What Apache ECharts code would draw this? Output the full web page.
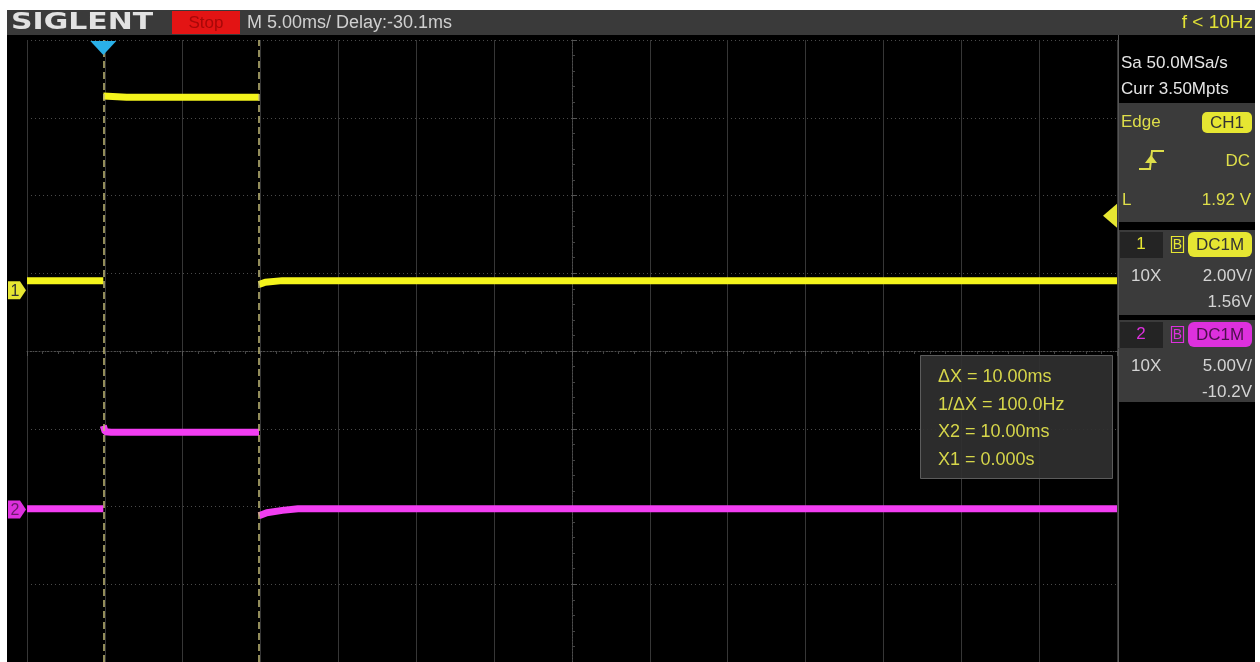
<!DOCTYPE html>
<html><head><meta charset="utf-8">
<script src="https://cdn.jsdelivr.net/npm/echarts@6/dist/echarts.min.js"></script>
<style>html,body{margin:0;padding:0;background:#fff;}#c{width:1260px;height:662px;}</style>
</head><body><div id="c"></div>
<script>
// ---- data (time in ms, volts) ----
const ch1Time = [-4.9, 0, 0, 0, 1.5, 10, 10, 10, 10.4, 11.5, 65.1];
const ch1Volt = [0.25, 0.25, null, 5.0, 4.97, 4.97, null, 0.15, 0.21, 0.25, 0.25];
const ch2Time = [-4.9, 0, 0, 0, 0.12, 0.5, 10, 10, 10, 10.5, 11.5, 12.5, 65.1];
const ch2Volt = [0.05, 0.05, null, 5.4, 5.0, 4.97, 4.97, null, -0.4, -0.2, -0.05, 0.05, 0.05];
const cursorTimes = [0, 10];
const trigTime = 0;
const trigLevel = 1.92;
const timeRange = [-4.9, 65.1];      // 14 div x 5 ms, delay -30.1 ms
const ch1Range = [-9.56, 6.44];      // 2 V/div, offset 1.56 V
const ch2Range = [-9.8, 30.2];       // 5 V/div, offset -10.2 V
const headerText = 'M 5.00ms/ Delay:-30.1ms';
const freqText = 'f < 10Hz';
const sampleTexts = ['Sa 50.0MSa/s', 'Curr 3.50Mpts'];
const ch1Texts = ['10X', '2.00V/', '1.56V'];
const ch2Texts = ['10X', '5.00V/', '-10.2V'];
const measTexts = ['\u0394X = 10.00ms', '1/\u0394X = 100.0Hz', 'X2 = 10.00ms', 'X1 = 0.000s'];

const FONT = '"Liberation Sans", Arial, sans-serif';
const YEL = '#f4f41c', MAG = '#f23ef2';
const zip = (t, v) => t.map((x, i) => [x, v[i]]);

const chart = echarts.init(document.getElementById('c'));
chart.setOption({
  animation: false,
  backgroundColor: '#000',
  grid: {left: 27, top: 40, width: 1090, height: 623},
  xAxis: [
    {type: 'value', min: timeRange[0], max: timeRange[1], show: false},
    {type: 'value', min: -7, max: 7, interval: 1,
     axisLabel: {show: false},
     axisLine: {show: true, onZero: true, onZeroAxisIndex: 0, lineStyle: {color: '#4e4e4e', type: [1, 2]}},
     axisTick: {show: true, inside: true, length: 5, lineStyle: {color: '#555'}},
     minorTick: {show: true, splitNumber: 5, length: 3, lineStyle: {color: '#444'}},
     splitLine: {show: true, lineStyle: {color: '#363636', width: 1}}}
  ],
  yAxis: [
    {type: 'value', min: -4, max: 4, interval: 1,
     axisLabel: {show: false},
     axisLine: {show: true, onZero: true, onZeroAxisIndex: 1, lineStyle: {color: '#4e4e4e', type: [1, 2]}},
     axisTick: {show: true, inside: true, length: 5, lineStyle: {color: '#555'}},
     minorTick: {show: true, splitNumber: 5, length: 3, lineStyle: {color: '#444'}},
     splitLine: {show: true, lineStyle: {color: '#4a4a4a', type: [1, 3], width: 1}}},
    {type: 'value', min: ch1Range[0], max: ch1Range[1], show: false},
    {type: 'value', min: ch2Range[0], max: ch2Range[1], show: false}
  ],
  series: [
    {type: 'line', name: 'CH2', xAxisIndex: 0, yAxisIndex: 2, data: zip(ch2Time, ch2Volt),
     symbol: 'none', connectNulls: false, silent: true,
     lineStyle: {color: MAG, width: 7}},
    {type: 'line', name: 'CH1', xAxisIndex: 0, yAxisIndex: 1, data: zip(ch1Time, ch1Volt),
     symbol: 'none', connectNulls: false, silent: true,
     lineStyle: {color: YEL, width: 7},
     markLine: {symbol: ['none', 'none'], silent: true, label: {show: false},
       lineStyle: {color: '#c4bc78', type: [7, 4], width: 1.5},
       data: cursorTimes.map(t => ({xAxis: t}))}}
  ]
});

const y1 = chart.convertToPixel({yAxisIndex: 1}, 0);
const y2 = chart.convertToPixel({yAxisIndex: 2}, 0);
const yT = chart.convertToPixel({yAxisIndex: 1}, trigLevel);
const xT = chart.convertToPixel({xAxisIndex: 0}, trigTime);

function rect(x, y, w, h, fill, extra) {
  return Object.assign({type: 'rect', shape: {x, y, width: w, height: h}, style: {fill}, z: 50, silent: true}, extra || {});
}
function txt(x, y, s, size, color, align, extra) {
  return Object.assign({type: 'text', x, y, z: 60, silent: true,
    style: {text: s, font: size + 'px ' + FONT, fill: color, align: align || 'left', verticalAlign: 'middle'}}, extra || {});
}
const G = [];
// white page margins
G.push(rect(0, 0, 1260, 10, '#fff'), rect(0, 0, 7, 662, '#fff'), rect(1255, 0, 5, 662, '#fff'));
// top bar
G.push(rect(7, 10, 1248, 25, '#3a3a3a'));
G.push({type: 'text', x: 11, y: 23, z: 60, silent: true, scaleX: 1.3,
  style: {text: 'SIGLENT', font: 'bold 23px "DejaVu Sans", sans-serif', fill: '#e2e2e2', verticalAlign: 'middle'}});
G.push(rect(172, 11, 68, 23, '#e31414'));
G.push(txt(206, 23, 'Stop', 17, '#a80808', 'center'));
G.push(txt(247, 23, headerText, 18, '#d0d0d0'));
G.push(txt(1253, 23, freqText, 19, '#e2e236', 'right'));
// right panel
G.push(rect(1118, 35, 137, 627, '#000'));
G.push({type: 'line', shape: {x1: 1118.5, y1: 35, x2: 1118.5, y2: 662}, style: {stroke: '#555', lineWidth: 1}, z: 55, silent: true});
G.push(txt(1121, 63, sampleTexts[0], 17, '#e6e6e6'));
G.push(txt(1121, 89, sampleTexts[1], 17, '#e6e6e6'));
G.push(rect(1119, 103, 136, 119, '#3b3b3b'));
G.push(txt(1121, 122, 'Edge', 17, '#dede4a'));
G.push(rect(1202, 112, 50, 21, '#e6e632', {shape: {x: 1202, y: 112, width: 50, height: 21, r: 5}}));
G.push(txt(1227, 123, 'CH1', 17, '#333', 'center'));
G.push({type: 'polyline', shape: {points: [[1139, 169], [1150, 169], [1152, 151], [1164, 151]]},
  style: {stroke: '#dede4a', lineWidth: 2, fill: null}, z: 60, silent: true});
G.push({type: 'polygon', shape: {points: [[1145, 163], [1151, 155], [1157, 163]]}, style: {fill: '#dede4a'}, z: 60, silent: true});
G.push(txt(1250, 161, 'DC', 17, '#dede4a', 'right'));
G.push(txt(1122, 200, 'L', 17, '#dede4a'));
G.push(txt(1251, 200, trigLevel.toFixed(2) + ' V', 17, '#dede4a', 'right'));
// channel boxes
function chBox(top, bottom, num, col, textCol, badgeText, lines) {
  G.push(rect(1119, top, 136, bottom - top, '#3b3b3b'));
  G.push(rect(1120, top + 2, 43, 26, '#242424'));
  G.push(txt(1141, top + 14, num, 17, col, 'center'));
  G.push({type: 'rect', shape: {x: 1171.5, y: top + 6.5, width: 12, height: 16}, style: {fill: null, stroke: col, lineWidth: 1.2}, z: 60, silent: true});
  G.push(txt(1177.5, top + 15, 'B', 14, col, 'center'));
  G.push(rect(1188, top + 2, 64, 25, col, {shape: {x: 1188, y: top + 2, width: 64, height: 25, r: 6}}));
  G.push(txt(1220, top + 15, badgeText, 17, textCol, 'center'));
  G.push(txt(1131, top + 46, lines[0], 17, '#d4d4d4'));
  G.push(txt(1252, top + 46, lines[1], 17, '#d4d4d4', 'right'));
  G.push(txt(1252, top + 72, lines[2], 17, '#d4d4d4', 'right'));
}
chBox(230, 315, '1', '#e6e632', '#333', 'DC1M', ch1Texts);
chBox(320, 402, '2', '#dd30dd', '#4a104a', 'DC1M', ch2Texts);
// measurement box
G.push(rect(920.5, 355.5, 192, 123, 'rgba(48,48,48,0.92)', {style: {fill: 'rgba(48,48,48,0.92)', stroke: '#5c5c5c', lineWidth: 1}}));
measTexts.forEach((s, i) => G.push(txt(938, 377 + i * 27.6, s, 18, '#d6d64a')));
// markers derived from scales
G.push({type: 'polygon', shape: {points: [[xT - 13, 41], [xT + 13, 41], [xT, 55]]}, style: {fill: '#2ab0e8'}, z: 60, silent: true});
G.push({type: 'polygon', shape: {points: [[8, y1 - 9], [20, y1 - 9], [26, y1], [20, y1 + 9], [8, y1 + 9]]}, style: {fill: '#e6e632'}, z: 60, silent: true});
G.push(txt(15, y1 + 1, '1', 16, '#333', 'center'));
G.push({type: 'polygon', shape: {points: [[8, y2 - 9], [20, y2 - 9], [26, y2], [20, y2 + 9], [8, y2 + 9]]}, style: {fill: '#dd30dd'}, z: 60, silent: true});
G.push(txt(15, y2 + 1, '2', 16, '#6a1a6a', 'center'));
G.push({type: 'polygon', shape: {points: [[1117, yT - 12], [1117, yT + 12], [1103, yT]]}, style: {fill: '#e6e632'}, z: 60, silent: true});
chart.setOption({graphic: {elements: G}});
</script></body></html>
